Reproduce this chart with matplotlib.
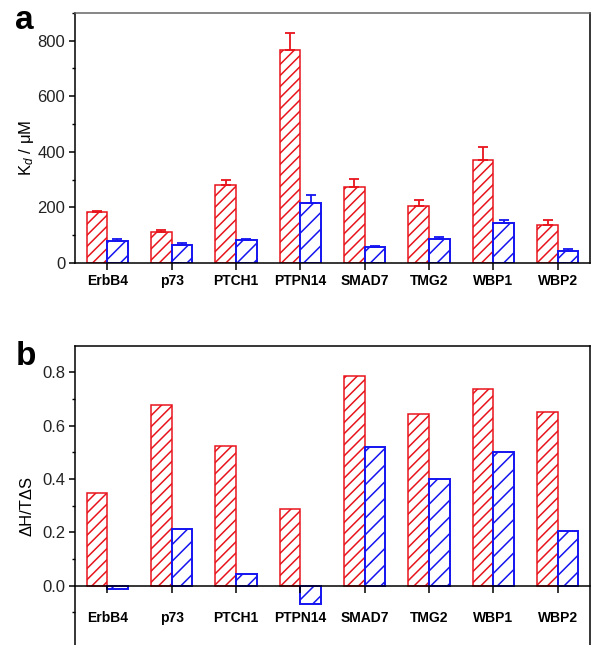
import numpy as np
import matplotlib
matplotlib.use("Agg")
import matplotlib.pyplot as plt
from matplotlib.ticker import MultipleLocator, FormatStrFormatter

plt.rcParams['font.family'] = ['Liberation Sans', 'DejaVu Sans']
plt.rcParams['mathtext.fontset'] = 'custom'
plt.rcParams['mathtext.rm'] = 'Liberation Sans'
plt.rcParams['mathtext.it'] = 'Liberation Sans:italic'
plt.rcParams['hatch.linewidth'] = 1.1

# data
proteins = ["ErbB4", "p73", "PTCH1", "PTPN14", "SMAD7", "TMG2", "WBP1", "WBP2"]

kd_red = [184, 111, 281, 766, 273, 205, 372, 135]
kd_red_err = [4, 6, 18, 60, 29, 22, 45, 20]
kd_blue = [78, 65, 82, 216, 56, 85, 143, 44]
kd_blue_err = [7, 6, 6, 29, 5, 10, 10, 6]

ratio_red = [0.349, 0.677, 0.524, 0.289, 0.785, 0.645, 0.737, 0.653]
ratio_blue = [-0.012, 0.213, 0.045, -0.069, 0.520, 0.401, 0.501, 0.206]

RED = '#e8141c'
BLUE = '#1414f0'

x = np.arange(len(proteins))
w = 0.32
off = 0.16

fig = plt.figure(figsize=(6.01, 6.45), dpi=100)
ax1 = fig.add_axes([0.1248, 0.5922, 0.8569, 0.3881])
ax2 = fig.add_axes([0.1248, -0.0322, 0.8569, 0.4963])
# zero line of panel b carries the category labels
ax2.spines['bottom'].set_position(('data', 0))


def style_axes(ax):
    for s in ax.spines.values():
        s.set_linewidth(1.1)
        s.set_color('black')
    ax.tick_params(axis='y', which='major', direction='out', length=4, width=1.1,
                   labelsize=12, pad=3, labelcolor='#222222')
    ax.tick_params(axis='y', which='minor', direction='out', length=2.5, width=1.0)
    ax.tick_params(axis='x', which='major', direction='out', length=5, width=1.1,
                   labelsize=10)
    ax.tick_params(top=False, right=False)
    ax.set_xticks(x)
    ax.set_xticklabels(proteins, fontweight='bold')
    ax.set_xlim(-0.5, 7.5)


# panel a
ax1.bar(x - off, kd_red, w, facecolor='white', edgecolor=RED, hatch='///', linewidth=1.1)
ax1.bar(x + off, kd_blue, w, facecolor='white', edgecolor=BLUE, hatch='//', linewidth=1.4)
ax1.errorbar(x - off, kd_red, yerr=[np.zeros(8), kd_red_err], fmt='none',
             ecolor=RED, elinewidth=1.3, capsize=3.5, capthick=1.3)
ax1.errorbar(x + off, kd_blue, yerr=[np.zeros(8), kd_blue_err], fmt='none',
             ecolor=BLUE, elinewidth=1.3, capsize=3.5, capthick=1.3)
style_axes(ax1)
ax1.spines['top'].set_color('#666666')
ax1.set_ylim(0, 900)
ax1.yaxis.set_major_locator(MultipleLocator(200))
ax1.yaxis.set_minor_locator(MultipleLocator(100))
ax1.tick_params(axis='x', pad=3)
ax1.set_ylabel(r"K$_d$ / μM", fontsize=12, va='center')
ax1.yaxis.set_label_coords(-0.095, 0.46)

# panel b
ax2.bar(x - off, ratio_red, w, facecolor='white', edgecolor=RED, hatch='///', linewidth=1.1)
ax2.bar(x + off, ratio_blue, w, facecolor='white', edgecolor=BLUE, hatch='//', linewidth=1.4)
style_axes(ax2)
ax2.set_ylim(-0.3, 0.9)
ax2.set_yticks([0.0, 0.2, 0.4, 0.6, 0.8])
ax2.set_yticks([-0.1, 0.1, 0.3, 0.5, 0.7], minor=True)
ax2.yaxis.set_major_formatter(FormatStrFormatter('%.1f'))
ax2.tick_params(axis='x', pad=13)
ax2.set_ylabel("ΔH/TΔS", fontsize=12, va='center')
ax2.yaxis.set_label_coords(-0.093, 0.5)

fig.text(15 / 601, 1 - 29.3 / 645, 'a', fontsize=24, fontweight='bold', va='baseline')
fig.text(16 / 601, 1 - 365 / 645, 'b', fontsize=24, fontweight='bold', va='baseline')

fig.savefig('out.png', dpi=100)
